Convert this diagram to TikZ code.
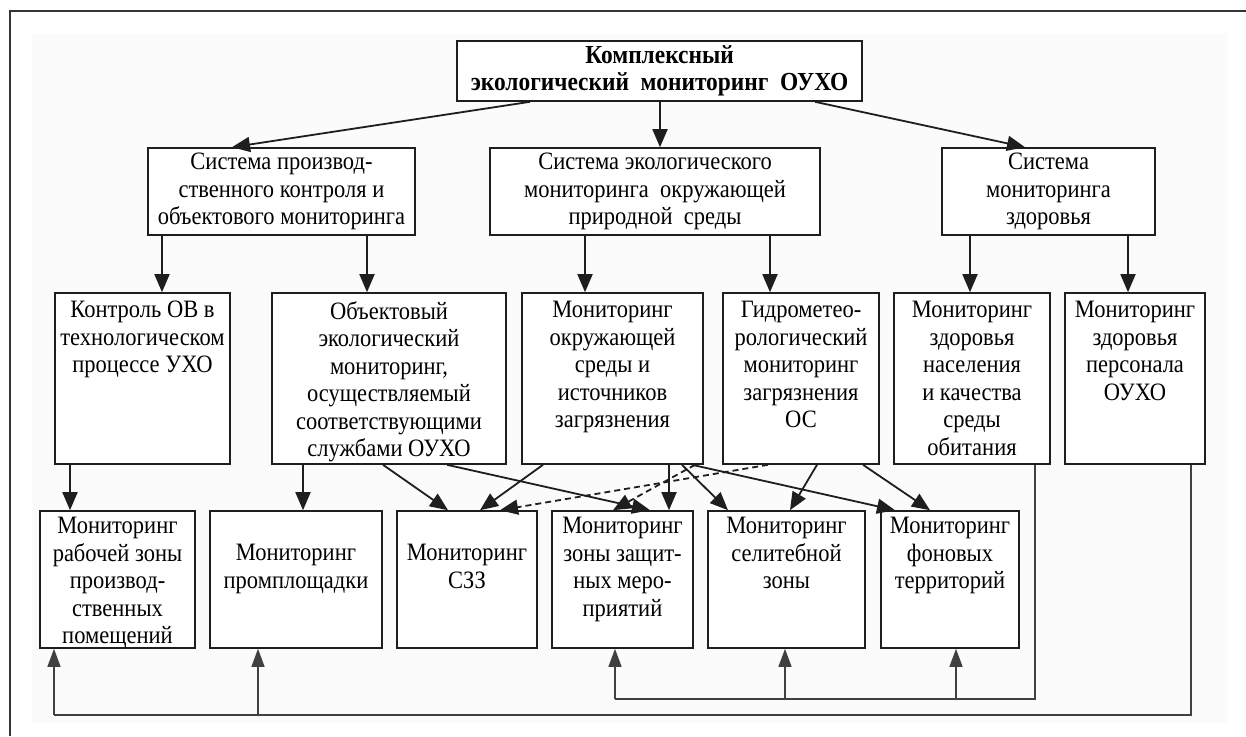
\documentclass[tikz,border=0pt]{standalone}
\usepackage{fontspec}
\setmainfont[FakeStretch=0.9]{Liberation Serif}
\usetikzlibrary{arrows.meta,calc}
\definecolor{bgc}{RGB}{251,251,251}
\definecolor{ln}{RGB}{30,30,30}
\begin{document}
\begin{tikzpicture}[x=1pt,y=-1pt,
 box/.style={draw=ln,line width=1.6pt,fill=white,inner sep=0pt},
 txt/.style={font=\fontsize{25}{27.5}\selectfont,align=center,inner sep=0pt},
 btxt/.style={font=\fontsize{26}{27}\selectfont\bfseries,align=center,inner sep=0pt},
 arr/.style={draw=ln,line width=1.8pt,-{Triangle[length=18pt,width=15pt]}},
 dsh/.style={arr,dash pattern=on 6pt off 4pt},
 bus/.style={draw=ln!85,line width=1.4pt},
 up/.style={bus,-{Triangle[length=18pt,width=13pt]}}]
\useasboundingbox (0,0) rectangle (1246,736);
\fill[white] (0,0) rectangle (1246,736);
\fill[bgc] (32,33) rectangle (1228,723);
\draw[ln!90,line width=1.5pt] (1246,11) -- (10,11) -- (10,736);

% top
\node[box,minimum width=405pt,minimum height=60pt] (T) at (659.5,71) {};
\node[btxt] (Tt) at (T.center) {Комплексный\\экологический\ \ мониторинг\ \ ОУХО};

% row 2
\node[box,minimum width=267pt,minimum height=87pt] (A) at (281.5,191.5) {};
\node[txt] (At) at (A.center) {Система производ-\\ственного контроля и\\объектового мониторинга};
\node[box,minimum width=330pt,minimum height=87pt] (B) at (655,191.5) {};
\node[txt] (Bt) at (B.center) {Система экологического\\мониторинга\ \ окружающей\\природной\ \ среды};
\node[box,minimum width=213pt,minimum height=87pt] (C) at (1048.5,191.5) {};
\node[txt] (Ct) at (C.center) {Система\\мониторинга\\здоровья};

% row 3
\node[box,minimum width=175pt,minimum height=171pt] (D) at (142.5,378.5) {};
\node[txt,anchor=north] (Dt) at ([yshift=-9pt]D.north) {Контроль ОВ в\\технологическом\\процессе УХО};
\node[box,minimum width=234pt,minimum height=171pt] (E) at (389,378.5) {};
\node[txt,anchor=north] (Et) at ([yshift=-9pt]E.north) {Объектовый\\экологический\\мониторинг,\\осуществляемый\\соответствующими\\службами ОУХО};
\node[box,minimum width=181pt,minimum height=171pt] (F) at (612.5,378.5) {};
\node[txt,anchor=north] (Ft) at ([yshift=-9pt]F.north) {Мониторинг\\окружающей\\среды и\\источников\\загрязнения};
\node[box,minimum width=156pt,minimum height=171pt] (G) at (801,378.5) {};
\node[txt,anchor=north] (Gt) at ([yshift=-9pt]G.north) {Гидрометео-\\рологический\\мониторинг\\загрязнения\\ОС};
\node[box,minimum width=156pt,minimum height=171pt] (H) at (972,378.5) {};
\node[txt,anchor=north] (Ht) at ([yshift=-9pt]H.north) {Мониторинг\\здоровья\\населения\\и качества\\среды\\обитания};
\node[box,minimum width=140pt,minimum height=171pt] (I) at (1135,378.5) {};
\node[txt,anchor=north] (It) at ([yshift=-9pt]I.north) {Мониторинг\\здоровья\\персонала\\ОУХО};

% row 4
\node[box,minimum width=155pt,minimum height=137pt] (K1) at (117.5,579.5) {};
\node[txt,anchor=north] (K1t) at ([yshift=-7pt]K1.north) {Мониторинг\\рабочей зоны\\производ-\\ственных\\помещений};
\node[box,minimum width=172pt,minimum height=137pt] (K2) at (296,579.5) {};
\node[txt,anchor=north] (K2t) at ([yshift=-34pt]K2.north) {Мониторинг\\промплощадки};
\node[box,minimum width=140pt,minimum height=137pt] (K3) at (467,579.5) {};
\node[txt,anchor=north] (K3t) at ([yshift=-34pt]K3.north) {Мониторинг\\СЗЗ};
\node[box,minimum width=141pt,minimum height=137pt] (K4) at (622.5,579.5) {};
\node[txt,anchor=north] (K4t) at ([yshift=-7pt]K4.north) {Мониторинг\\зоны защит-\\ных меро-\\приятий};
\node[box,minimum width=157pt,minimum height=137pt] (K5) at (786.5,579.5) {};
\node[txt,anchor=north] (K5t) at ([yshift=-7pt]K5.north) {Мониторинг\\селитебной\\зоны};
\node[box,minimum width=138pt,minimum height=137pt] (K6) at (950,579.5) {};
\node[txt,anchor=north] (K6t) at ([yshift=-7pt]K6.north) {Мониторинг\\фоновых\\территорий};

% top -> row 2
\draw[arr] (T.south -| 530,0) -- (A.north -| 232,0);
\draw[arr] (T.south -| 660,0) -- (B.north -| 660,0);
\draw[arr] (T.south -| 815,0) -- (C.north -| 1025,0);

% row 2 -> row 3
\draw[arr] (A.south -| 162,0) -- (D.north -| 162,0);
\draw[arr] (A.south -| 367,0) -- (E.north -| 367,0);
\draw[arr] (B.south -| 585,0) -- (F.north -| 585,0);
\draw[arr] (B.south -| 770,0) -- (G.north -| 770,0);
\draw[arr] (C.south -| 970,0) -- (H.north -| 970,0);
\draw[arr] (C.south -| 1128,0) -- (I.north -| 1128,0);

% row 3 -> row 4
\draw[arr] (D.south -| 70,0) -- (K1.north -| 70,0);
\draw[arr] (E.south -| 303,0) -- (K2.north -| 303,0);
\draw[arr] (E.south -| 383,0) -- (K3.north -| 448,0);
\draw[arr] (E.south -| 447,0) -- (K4.north -| 650,0);
\draw[arr] (F.south -| 543,0) -- (K3.north -| 480,0);
\draw[arr] (F.south -| 669,0) -- (K4.north -| 669,0);
\draw[arr] (F.south -| 682,0) -- (K5.north -| 728,0);
\draw[arr] (F.south -| 692,0) -- (K6.north -| 895,0);
\draw[arr] (G.south -| 817,0) -- (K5.north -| 790,0);
\draw[arr] (G.south -| 863,0) -- (K6.north -| 930,0);
\draw[dsh] (G.south -| 768,0) -- (K3.north -| 500,0);
\draw[dsh] (F.south -| 695,0) -- (K4.north -| 613,0);

% bottom buses
\coordinate (bi) at (615,699);
\coordinate (bo) at (54,715);
\draw[bus] (H.south -| 1035,0) |- (bi);
\draw[up] (bi) -- (K4.south -| bi);
\draw[up] (bi -| 785,0) -- (K5.south -| 785,0);
\draw[up] (bi -| 956,0) -- (K6.south -| 956,0);
\draw[bus] (I.south -| 1191,0) |- (bo);
\draw[up] (bo) -- (K1.south -| bo);
\draw[up] (bo -| 258,0) -- (K2.south -| 258,0);
\end{tikzpicture}
\end{document}
